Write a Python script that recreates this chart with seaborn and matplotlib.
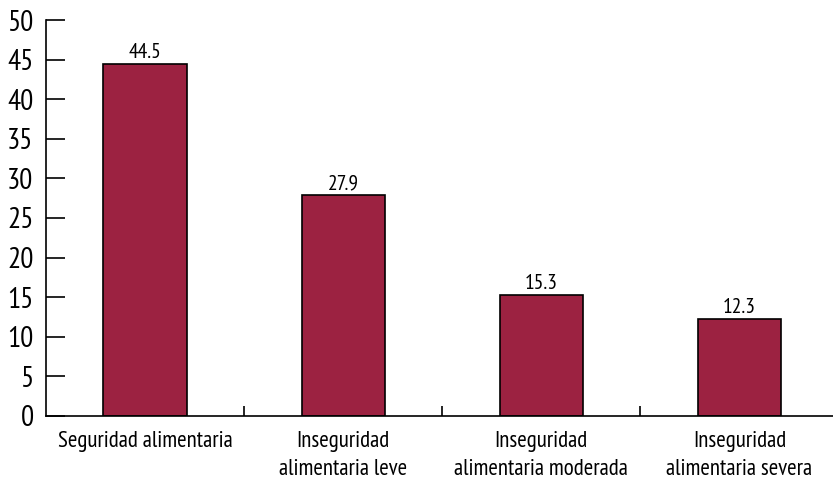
import matplotlib
matplotlib.use("Agg")
import matplotlib.pyplot as plt
from matplotlib import font_manager
import seaborn as sns
import pandas as pd

categories = ["Seguridad alimentaria",
              "Inseguridad\nalimentaria leve",
              "Inseguridad\nalimentaria moderada",
              "Inseguridad\nalimentaria severa"]
values = [44.5, 27.9, 15.3, 12.3]

sns.set_theme(style="white")

# pick a narrow face if one is installed
names = {f.name for f in font_manager.fontManager.ttflist}
wanted = ["PT Sans Narrow", "Roboto Condensed", "Fira Sans Condensed",
          "Open Sans Condensed", "Liberation Sans Narrow"]
narrow = [n for n in wanted if n in names]
if not narrow:
    narrow = sorted(n for n in names if "Narrow" in n or "Condensed" in n)[:1]
plt.rcParams['font.family'] = narrow[:1] + ['Roboto', 'DejaVu Sans']

df = pd.DataFrame({"cat": categories, "val": values})

fig = plt.figure(figsize=(8.33, 4.8), dpi=100)
ax = fig.add_axes([46 / 833, 64 / 480, 787 / 833, 396 / 480])

sns.barplot(data=df, x="cat", y="val", ax=ax, color="#9C2241",
            saturation=1, width=0.42, edgecolor="black", linewidth=1.2)

for c in ax.containers:
    ax.bar_label(c, labels=[f"{v:.1f}" for v in values], fontsize=15.5,
                 padding=1, color="black")

ax.set_ylim(0, 50)
ax.set_xlim(-0.5, 3.472)
ax.set_yticks(range(0, 51, 5))
ax.set_xticks([0, 1, 2, 3])
ax.set_xticklabels(categories, fontsize=16.5, linespacing=1.4)
ax.set_xticks([0.5, 1.5, 2.5], minor=True)
ax.set_xlabel("")
ax.set_ylabel("")

ax.tick_params(axis="y", direction="in", length=14, width=1.2, colors="black",
               labelsize=21, pad=9, left=True)
ax.tick_params(axis="x", which="major", length=0, pad=11, labelcolor="black")
ax.tick_params(axis="x", which="minor", direction="in", length=7, width=1.2,
               color="black", bottom=True)

for s in ["top", "right"]:
    ax.spines[s].set_visible(False)
for s in ["left", "bottom"]:
    ax.spines[s].set_color("black")
    ax.spines[s].set_linewidth(1.2)

fig.savefig("out.png", dpi=100)
